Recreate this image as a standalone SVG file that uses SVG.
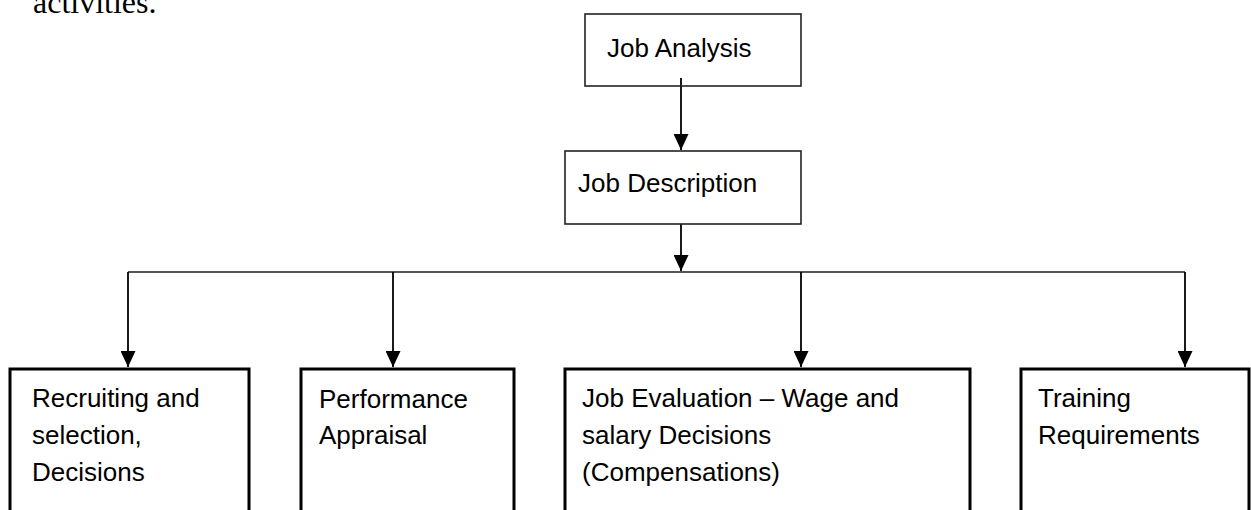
<svg xmlns="http://www.w3.org/2000/svg" width="1251" height="510" viewBox="0 0 1251 510">
<defs>
<style>
.lbl{font-family:"Liberation Sans",Arial,sans-serif;font-size:26px;fill:#000}
.thin{fill:none;stroke:#222;stroke-width:1.6}
.thick{fill:none;stroke:#000;stroke-width:3}
.conn{fill:none;stroke:#000;stroke-width:1.8}
.bus{fill:none;stroke:#555;stroke-width:1.8}
</style>
<marker id="ah" markerUnits="userSpaceOnUse" markerWidth="16" markerHeight="15" refX="16" refY="7.5" orient="auto">
<path d="M0,0 L16,7.5 L0,15 Z" fill="#000"/>
</marker>
</defs>
<rect width="1251" height="510" fill="#fff"/>
<text x="33" y="12.5" style="font-family:'Liberation Serif','Times New Roman',serif;font-size:32px;fill:#000">activities.</text>
<g id="connectors">
<line class="conn" x1="681" y1="78" x2="681" y2="150" marker-end="url(#ah)"/>
<line class="conn" x1="681" y1="224" x2="681" y2="271" marker-end="url(#ah)"/>
<line class="bus" x1="128" y1="272" x2="1185" y2="272"/>
<line class="conn" x1="128" y1="272" x2="128" y2="367" marker-end="url(#ah)"/>
<line class="conn" x1="393" y1="272" x2="393" y2="367" marker-end="url(#ah)"/>
<line class="conn" x1="801" y1="272" x2="801" y2="367" marker-end="url(#ah)"/>
<line class="conn" x1="1185" y1="272" x2="1185" y2="367" marker-end="url(#ah)"/>
</g>
<g id="job-analysis">
<rect class="thin" x="585" y="14" width="216" height="72"/>
<text class="lbl" x="607" y="57">Job Analysis</text>
</g>
<g id="job-description">
<rect class="thin" x="565" y="151" width="236" height="73"/>
<text class="lbl" x="578" y="192">Job Description</text>
</g>
<g id="recruiting">
<path class="thick" d="M10,515 V369 H249 V515"/>
<text class="lbl" x="32" y="407">Recruiting and</text>
<text class="lbl" x="32" y="444">selection,</text>
<text class="lbl" x="32" y="481">Decisions</text>
</g>
<g id="performance">
<path class="thick" d="M301,515 V369 H514 V515"/>
<text class="lbl" x="319" y="408">Performance</text>
<text class="lbl" x="319" y="444">Appraisal</text>
</g>
<g id="job-evaluation">
<path class="thick" d="M565,515 V369 H970 V515"/>
<text class="lbl" x="582" y="407">Job Evaluation – Wage and</text>
<text class="lbl" x="582" y="444">salary Decisions</text>
<text class="lbl" x="582" y="481">(Compensations)</text>
</g>
<g id="training">
<path class="thick" d="M1021,515 V369 H1249 V515"/>
<text class="lbl" x="1038" y="407">Training</text>
<text class="lbl" x="1038" y="444">Requirements</text>
</g>
</svg>
